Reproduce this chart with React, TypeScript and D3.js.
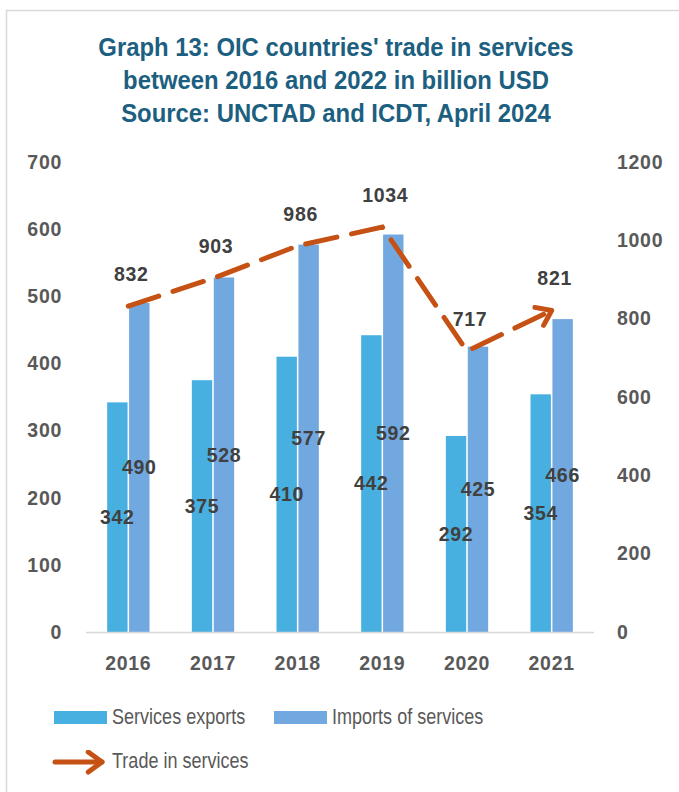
import { useEffect, useRef } from "react";
import * as d3 from "d3";

const YEARS = ["2016", "2017", "2018", "2019", "2020", "2021"];
const EXPORTS = [342, 375, 410, 442, 292, 354];
const IMPORTS = [490, 528, 577, 592, 425, 466];
const TRADE = [832, 903, 986, 1034, 717, 821];
const LEFT_TICKS = [0, 100, 200, 300, 400, 500, 600, 700];
const RIGHT_TICKS = [0, 200, 400, 600, 800, 1000, 1200];
const TITLE = [
  "Graph 13: OIC countries' trade in services",
  "between 2016 and 2022 in billion USD",
  "Source: UNCTAD and ICDT, April 2024",
];

const C_EXP = "#47B0E1";
const C_IMP = "#71A8DF";
const C_LINE = "#C55214";
const C_TXT = "#595959";
const C_LBL = "#404040";
const SANS = "'Liberation Sans', Arial, sans-serif";

function Chart() {
  const ref = useRef<SVGSVGElement>(null);
  useEffect(() => {
    const el = ref.current;
    if (!el) return;
    const W = 679, H = 792;
    const svg = d3.select(el).attr("width", W).attr("height", H).attr("viewBox", `0 0 ${W} ${H}`);
    svg.selectAll("*").remove();
    const M = { top: 162, bottom: 632, left: 86, right: 594 };

    // frame
    svg.append("rect").attr("x", 6.5).attr("y", 10.5).attr("width", W).attr("height", H).attr("fill", "#fff").attr("stroke", "#D9D9D9").attr("stroke-width", 1.5);

    // title (condensed look)
    TITLE.forEach((t, i) => {
      svg.append("text").attr("transform", `translate(336,${56 + i * 33}) scale(0.955,1)`).attr("text-anchor", "middle")
        .attr("fill", "#1D5F80").attr("font-family", SANS).attr("font-weight", 700).attr("font-size", 25).text(t);
    });

    const yL = d3.scaleLinear().domain([0, 700]).range([M.bottom, M.top]);
    const yR = d3.scaleLinear().domain([0, 1200]).range([M.bottom, M.top]);
    const x = d3.scaleBand<string>().domain(YEARS).range([M.left, M.right]).paddingInner(0.5).paddingOuter(0.25);
    const xi = d3.scaleBand<string>().domain(["exp", "imp"]).range([0, x.bandwidth()]).paddingInner(0.07);

    const num = (sel: d3.Selection<SVGTextElement, unknown, null, undefined>) =>
      sel.attr("font-family", SANS).attr("font-weight", 700).attr("font-size", 19.5).attr("letter-spacing", 0.7);

    // axis ticks
    LEFT_TICKS.forEach((t) => {
      num(svg.append("text")).attr("x", 62).attr("y", yL(t)).attr("dy", "0.35em").attr("text-anchor", "end").attr("fill", C_TXT).text(t);
    });
    RIGHT_TICKS.forEach((t) => {
      num(svg.append("text")).attr("x", 617).attr("y", yR(t)).attr("dy", "0.35em").attr("text-anchor", "start").attr("fill", C_TXT).text(t);
    });

    // bars
    const series = [
      { key: "exp", vals: EXPORTS, color: C_EXP },
      { key: "imp", vals: IMPORTS, color: C_IMP },
    ];
    series.forEach((s) => {
      YEARS.forEach((yr, i) => {
        const bx = (x(yr) ?? 0) + (xi(s.key) ?? 0);
        svg.append("rect").attr("x", bx).attr("y", yL(s.vals[i])).attr("width", xi.bandwidth())
          .attr("height", yL(0) - yL(s.vals[i])).attr("fill", s.color);
      });
    });

    // x axis
    svg.append("line").attr("x1", M.left).attr("x2", M.right).attr("y1", M.bottom + 0.5).attr("y2", M.bottom + 0.5).attr("stroke", "#D9D9D9").attr("stroke-width", 1.5);
    YEARS.forEach((yr) => {
      num(svg.append("text")).attr("x", (x(yr) ?? 0) + x.bandwidth() / 2).attr("y", 670).attr("text-anchor", "middle").attr("fill", C_TXT).text(yr);
    });

    // bar labels
    series.forEach((s) => {
      YEARS.forEach((yr, i) => {
        const cx = (x(yr) ?? 0) + (xi(s.key) ?? 0) + xi.bandwidth() / 2;
        num(svg.append("text")).attr("x", cx).attr("y", (yL(s.vals[i]) + yL(0)) / 2).attr("dy", "0.35em").attr("text-anchor", "middle")
          .attr("fill", C_LBL).text(s.vals[i]);
      });
    });

    // trade line with arrow
    const defs = svg.append("defs");
    defs.append("marker").attr("id", "arr").attr("viewBox", "0 0 10 10").attr("refX", 8).attr("refY", 5)
      .attr("markerWidth", 5).attr("markerHeight", 5).attr("markerUnits", "strokeWidth").attr("orient", "auto")
      .append("path").attr("d", "M2.5,1 L8,5 L2.5,9").attr("fill", "none").attr("stroke", C_LINE).attr("stroke-width", 2).attr("stroke-linecap", "round").attr("stroke-linejoin", "round");
    const pts = YEARS.map((yr, i) => [(x(yr) ?? 0) + x.bandwidth() / 2, yR(TRADE[i])] as [number, number]);
    svg.append("path").attr("d", d3.line()(pts)).attr("fill", "none").attr("stroke", C_LINE).attr("stroke-width", 5)
      .attr("stroke-dasharray", "32 15").attr("stroke-linecap", "round").attr("marker-end", "url(#arr)");
    pts.forEach((p, i) => {
      num(svg.append("text")).attr("x", p[0] + 3).attr("y", p[1] - 32).attr("dy", "0.35em").attr("text-anchor", "middle")
        .attr("fill", C_LBL).text(TRADE[i]);
    });

    // legend
    const legendText = (lx: number, ly: number, t: string) =>
      svg.append("text").attr("transform", `translate(${lx},${ly}) scale(0.82,1)`).attr("dy", "0.35em")
        .attr("font-family", SANS).attr("font-size", 22).attr("fill", C_TXT).text(t);
    svg.append("rect").attr("x", 54).attr("y", 711).attr("width", 53).attr("height", 13).attr("fill", C_EXP);
    legendText(112, 716, "Services exports");
    svg.append("rect").attr("x", 274).attr("y", 711).attr("width", 53).attr("height", 13).attr("fill", C_IMP);
    legendText(332, 716, "Imports of services");
    svg.append("line").attr("x1", 55).attr("x2", 102).attr("y1", 762).attr("y2", 762).attr("stroke", C_LINE).attr("stroke-width", 5)
      .attr("stroke-linecap", "round").attr("marker-end", "url(#arr)");
    legendText(112, 760, "Trade in services");
  }, []);
  return <svg ref={ref} role="img" aria-label="OIC trade in services chart" />;
}

export default function App() {
  return (
    <div style={{ position: "absolute", left: 0, top: 0 }}>
      <Chart />
    </div>
  );
}
